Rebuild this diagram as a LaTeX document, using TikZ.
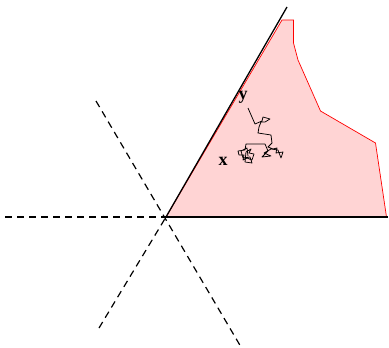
\documentclass[tikz,border=0pt]{standalone}
\usepackage{fontspec}
\setmainfont{Liberation Serif}
\begin{document}
\begin{tikzpicture}[x=1pt,y=-1pt,
  axis/.style={line width=1.3pt,black},
  guide/.style={line width=1.2pt,black,dash pattern=on 7pt off 5pt},
  region/.style={draw=red,line width=0.7pt,fill=red!17},
  walk/.style={line width=0.75pt,black,line join=round},
  lbl/.style={font=\fontsize{18}{22}\selectfont\bfseries,inner sep=0pt}]
\useasboundingbox (0,0) rectangle (389,348);
\coordinate (O) at (166,217);
\coordinate (E) at (388,217);
\coordinate (T) at (287,7);
\coordinate (W) at (5,217);
\coordinate (UL) at (96,101);
\coordinate (LL) at (99,328);
\coordinate (LR) at (241,347);
\filldraw[region] (O) -- (282,20) -- (293.5,20) -- (293.5,43) -- (298,60) -- (320.5,111) -- (375.5,143) -- (386.5,217) -- cycle;
\draw[guide] (W) -- (O);
\draw[guide] (UL) -- (LR);
\draw[guide] (LL) -- (O);
\draw[axis] (O) -- (E);
\draw[axis] (O) -- (T);
\draw[walk] (248,108) -- (255,124) -- (262,121) -- (263,117) -- (270,119) -- (265,122) -- (261,122) -- (259,127) -- (258,133) -- (271,135) -- (272,143) -- (268,147) -- (273,149) -- (277,148) -- (276,153) -- (283,152) -- (281,158) -- (278,150) -- (271,149) -- (264,153) -- (271,156) -- (262,157) -- (268,151) -- (265,144) -- (246,144) -- (245,150) -- (238,151) -- (239,155) -- (244,155) -- (243,160) -- (247,158) -- (252,160) -- (254,154) -- (249,153) -- (251,149) -- (246,152) -- (245,162) -- (252,163) -- (250,157) -- (243,158) -- (241,151) -- (247,148) -- (248,156);
\node[lbl] (y) at (243,97) {y};
\node[lbl] (x) at (223,161) {x};
\end{tikzpicture}
\end{document}
